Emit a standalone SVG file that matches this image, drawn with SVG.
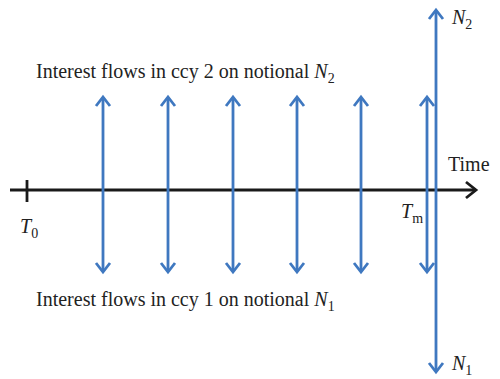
<svg xmlns="http://www.w3.org/2000/svg" width="500" height="379" viewBox="0 0 500 379">
<style>
.t{font-family:"Liberation Serif","Times New Roman",serif;font-size:20px;fill:#222}
.i{font-style:italic}
.s{font-size:14px}
.f{stroke:#3f78c0;stroke-width:2.8;fill:none;stroke-linejoin:miter;stroke-linecap:butt}
.ax{stroke:#1a1a1a;stroke-width:2.8;fill:none}
</style>
<rect width="500" height="379" fill="#fff"/>
<g id="axis">
<line class="ax" x1="10" y1="190" x2="476" y2="190"/>
<polyline class="ax" points="466,182 476,190 466,198"/>
<line class="ax" x1="27" y1="180" x2="27" y2="202"/>
</g>
<g id="connectors">
<g id="a1"><line class="f" x1="103" y1="98" x2="103" y2="271"/><polyline class="f" points="96,106 103,97 110,106"/><polyline class="f" points="96,263 103,272 110,263"/></g>
<g id="a2"><line class="f" x1="168" y1="98" x2="168" y2="271"/><polyline class="f" points="161,106 168,97 175,106"/><polyline class="f" points="161,263 168,272 175,263"/></g>
<g id="a3"><line class="f" x1="233" y1="98" x2="233" y2="271"/><polyline class="f" points="226,106 233,97 240,106"/><polyline class="f" points="226,263 233,272 240,263"/></g>
<g id="a4"><line class="f" x1="297" y1="98" x2="297" y2="271"/><polyline class="f" points="290,106 297,97 304,106"/><polyline class="f" points="290,263 297,272 304,263"/></g>
<g id="a5"><line class="f" x1="361" y1="98" x2="361" y2="271"/><polyline class="f" points="354,106 361,97 368,106"/><polyline class="f" points="354,263 361,272 368,263"/></g>
<g id="a6"><line class="f" x1="427" y1="98" x2="427" y2="271"/><polyline class="f" points="420,106 427,97 434,106"/><polyline class="f" points="420,263 427,272 434,263"/></g>
<g id="a7"><line class="f" x1="436" y1="11" x2="436" y2="371"/><polyline class="f" points="429,19 436,10 443,19"/><polyline class="f" points="429,363 436,372 443,363"/></g>
</g>
<g id="labels">
<text class="t" x="36" y="78">Interest flows in ccy 2 on notional <tspan class="i">N</tspan><tspan class="s" dy="5">2</tspan></text>
<text class="t" x="36" y="306">Interest flows in ccy 1 on notional <tspan class="i">N</tspan><tspan class="s" dy="5">1</tspan></text>
<text class="t" x="448" y="171">Time</text>
<text class="t" x="20" y="233"><tspan class="i">T</tspan><tspan class="s" dy="5">0</tspan></text>
<text class="t" x="401" y="218"><tspan class="i">T</tspan><tspan class="s" dy="5">m</tspan></text>
<text class="t" x="452" y="24"><tspan class="i">N</tspan><tspan class="s" dy="5">2</tspan></text>
<text class="t" x="452" y="370"><tspan class="i">N</tspan><tspan class="s" dy="5">1</tspan></text>
</g>
</svg>
